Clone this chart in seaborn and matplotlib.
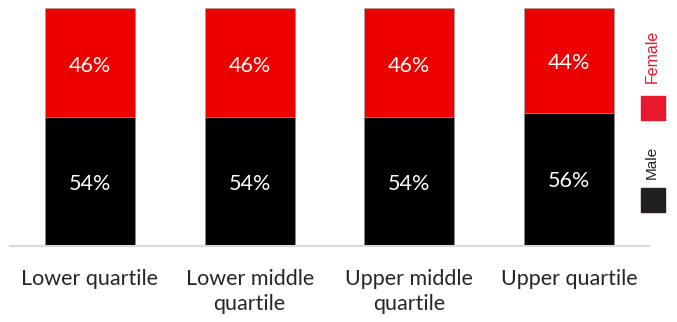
import matplotlib
matplotlib.use("Agg")
import matplotlib.pyplot as plt
import seaborn as sns
import pandas as pd
from matplotlib.patches import Rectangle

categories = ["Lower quartile", "Lower middle\nquartile", "Upper middle\nquartile", "Upper quartile"]
male = [54, 54, 54, 56]
female = [46, 46, 46, 44]

sns.set_style("white")
plt.rcParams['font.family'] = ['Lato', 'DejaVu Sans']

df = pd.DataFrame({"cat": categories, "male": male, "female": female})
df["total"] = df["male"] + df["female"]

W, H = 677, 322
fig = plt.figure(figsize=(6.77, 3.22), dpi=100)
ax = fig.add_axes([10 / W, 1 - 246 / H, (649 - 10) / W, (246 - 8) / H])

red = "#EE0000"
sns.barplot(data=df, x="cat", y="total", color=red, saturation=1, width=0.564,
            edgecolor="#A0A0A0", linewidth=0.5, ax=ax)
sns.barplot(data=df, x="cat", y="male", color="#000000", saturation=1, width=0.564,
            edgecolor="#A0A0A0", linewidth=0.5, ax=ax)

for i, (m, f) in enumerate(zip(male, female)):
    ax.text(i, m / 2 - 0.8, f"{m}%", ha="center", va="center", color="white", fontsize=15.5)
    ax.text(i, m + f / 2 - 1.2, f"{f}%", ha="center", va="center", color="white", fontsize=15.5)

ax.set_xlim(-0.5, 3.5)
ax.set_ylim(0, 100)
ax.set_xlabel("")
ax.set_ylabel("")
ax.set_yticks([])
for s in ["top", "left", "right"]:
    ax.spines[s].set_visible(False)
ax.spines["bottom"].set_color("#D9D9D9")
ax.spines["bottom"].set_linewidth(1.5)
ax.tick_params(axis="x", length=0, pad=16.5, labelsize=15.5)
for lbl in ax.get_xticklabels():
    lbl.set_linespacing(1.3)
    lbl.set_verticalalignment("top")

# legend
def px_rect(x0, y0, x1, y1, color):
    fig.patches.append(Rectangle((x0 / W, 1 - y1 / H), (x1 - x0) / W, (y1 - y0) / H,
                                 transform=fig.transFigure, color=color, figure=fig))
px_rect(641, 96, 665, 120, "#E8192C")
px_rect(641, 188, 665, 212, "#231F20")
fig.text(652 / W, 1 - 56 / H, "Female", rotation=90, ha="center", va="center",
         color="#E8192C", fontsize=11.5, family=["Liberation Sans", "DejaVu Sans"])
fig.text(652 / W, 1 - 162 / H, "Male", rotation=90, ha="center", va="center",
         color="#231F20", fontsize=11, family=["Liberation Sans", "DejaVu Sans"])

fig.savefig("out.png", dpi=100)
